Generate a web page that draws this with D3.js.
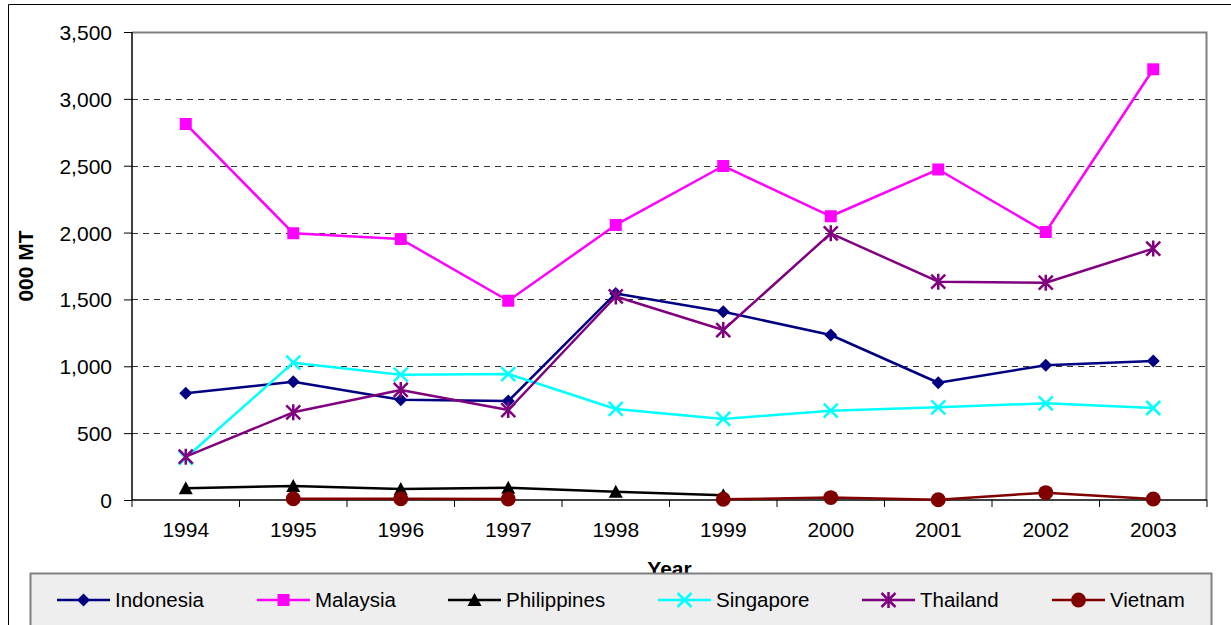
<!DOCTYPE html>
<html>
<head>
<meta charset="utf-8">
<script src="https://cdn.jsdelivr.net/npm/d3@7"></script>
<style>
  html, body { margin: 0; padding: 0; background: #ffffff; }
  svg { display: block; font-family: Arial, "Liberation Sans", sans-serif; }
</style>
</head>
<body>
<svg id="chart" width="1231" height="625"></svg>
<script>
// Years on the category axis
const years = ["1994", "1995", "1996", "1997", "1998", "1999", "2000", "2001", "2002", "2003"];

// Volumes in thousand metric tonnes (null = no data for that year)
const indonesia   = [798, 885, 750, 740, 1545, 1408, 1234, 877, 1008, 1040];
const malaysia    = [2812, 1995, 1952, 1490, 2057, 2498, 2122, 2472, 2004, 3221];
const philippines = [88, 105, 82, 92, 62, 35, null, null, null, null];
const singapore   = [316, 1027, 937, 942, 681, 606, 668, 693, 723, 688];
const thailand    = [324, 656, 823, 673, 1522, 1271, 1994, 1633, 1625, 1880];
const vietnam     = [null, 10, 9, 7, null, 5, 18, 2, 55, 8];

const yTicks = [0, 500, 1000, 1500, 2000, 2500, 3000, 3500];
const seriesNames = ["Indonesia", "Malaysia", "Philippines", "Singapore", "Thailand", "Vietnam"];

const series = [
  { name: seriesNames[0], values: indonesia,   color: "#000080", marker: "diamond" },
  { name: seriesNames[1], values: malaysia,    color: "#ff00ff", marker: "square" },
  { name: seriesNames[2], values: philippines, color: "#000000", marker: "triangle" },
  { name: seriesNames[3], values: singapore,   color: "#00ffff", marker: "x" },
  { name: seriesNames[4], values: thailand,    color: "#800080", marker: "star" },
  { name: seriesNames[5], values: vietnam,     color: "#800000", marker: "circle" }
];

const svg = d3.select("#chart");
const plot = { left: 132, right: 1207, top: 32, bottom: 500 };

const x = d3.scaleBand().domain(years).range([plot.left, plot.right]).padding(0);
const y = d3.scaleLinear().domain([0, 3500]).range([plot.bottom, plot.top]);
const cx = d => x(d) + x.bandwidth() / 2;

// Outer chart frame
svg.append("path")
  .attr("d", "M8.5,625 V4.5 H1231")
  .attr("fill", "none").attr("stroke", "#000").attr("stroke-width", 1);

// Plot area background and frame (top / right in grey)
svg.append("rect")
  .attr("x", plot.left).attr("y", plot.top)
  .attr("width", plot.right - plot.left).attr("height", plot.bottom - plot.top)
  .attr("fill", "#ffffff");
svg.append("path")
  .attr("d", `M${plot.left},${plot.top + 0.5} H${plot.right - 0.5} V${plot.bottom}`)
  .attr("fill", "none").attr("stroke", "#808080").attr("stroke-width", 2);

// Dashed horizontal gridlines
svg.append("g").selectAll("line")
  .data(yTicks.filter(t => t > 0 && t < 3500))
  .join("line")
  .attr("x1", plot.left).attr("x2", plot.right - 2)
  .attr("y1", d => Math.round(y(d)) + 0.5).attr("y2", d => Math.round(y(d)) + 0.5)
  .attr("stroke", "#333333").attr("stroke-width", 1)
  .attr("stroke-dasharray", "6,5");

// Y axis
const yAxis = svg.append("g")
  .attr("transform", `translate(${plot.left},0)`)
  .call(d3.axisLeft(y).tickValues(yTicks).tickSize(8).tickPadding(12)
    .tickFormat(d3.format(",")));
yAxis.select(".domain").attr("stroke", "#000").attr("stroke-width", 1.5)
  .attr("d", `M0,${plot.top}V${plot.bottom}`);
yAxis.selectAll(".tick line").attr("stroke", "#000");
yAxis.selectAll(".tick text")
  .attr("font-size", "21px").attr("fill", "#000")
  .attr("font-family", "Arial, 'Liberation Sans', sans-serif")
  .attr("dy", "0.36em");

// X axis: labels at category centres, ticks at category boundaries
const xAxis = svg.append("g")
  .attr("transform", `translate(0,${plot.bottom})`)
  .call(d3.axisBottom(x).tickSize(0).tickPadding(22));
xAxis.select(".domain").attr("stroke", "#000").attr("stroke-width", 1.5)
  .attr("d", `M${plot.left},0H${plot.right}`);
xAxis.selectAll(".tick text")
  .attr("font-size", "21px").attr("fill", "#000")
  .attr("font-family", "Arial, 'Liberation Sans', sans-serif");
xAxis.selectAll(".bound")
  .data(d3.range(years.length + 1))
  .join("line")
  .attr("class", "bound")
  .attr("x1", i => plot.left + i * x.step()).attr("x2", i => plot.left + i * x.step())
  .attr("y1", 0).attr("y2", 7)
  .attr("stroke", "#000").attr("stroke-width", 1);

// Axis titles
svg.append("text")
  .attr("transform", `translate(33,266) rotate(-90)`)
  .attr("text-anchor", "middle")
  .attr("font-size", "21px").attr("font-weight", "bold")
  .text("000 MT");
svg.append("text")
  .attr("x", (plot.left + plot.right) / 2).attr("y", 576)
  .attr("text-anchor", "middle")
  .attr("font-size", "21px").attr("font-weight", "bold")
  .text("Year");

// Marker shapes
function markerPath(type) {
  switch (type) {
    case "diamond": return "M0,-6.5L6.5,0L0,6.5L-6.5,0Z";
    case "square": return "M-6,-6H6V6H-6Z";
    case "triangle": return "M0,-7L7,6H-7Z";
    case "circle": return d3.symbol(d3.symbolCircle, 175)();
    case "x": return "M-7,-7L7,7M7,-7L-7,7";
    case "star": return "M-7,-7L7,7M7,-7L-7,7M0,-8V8";
  }
}
function drawMarker(g, type, color) {
  const stroked = type === "x" || type === "star";
  g.append("path")
    .attr("d", markerPath(type))
    .attr("fill", stroked ? "none" : color)
    .attr("stroke", stroked ? color : "none")
    .attr("stroke-width", stroked ? 2.5 : 0);
}

// Series lines and markers
const line = d3.line()
  .defined(d => d.v != null)
  .x(d => cx(d.year))
  .y(d => y(d.v));

series.forEach(s => {
  const pts = years.map((yr, i) => ({ year: yr, v: s.values[i] }));
  const g = svg.append("g");
  g.append("path")
    .datum(pts)
    .attr("d", line)
    .attr("fill", "none")
    .attr("stroke", s.color)
    .attr("stroke-width", 2.5)
    .attr("stroke-linejoin", "round");
  pts.filter(p => p.v != null).forEach(p => {
    const m = g.append("g").attr("transform", `translate(${cx(p.year)},${y(p.v)})`);
    drawMarker(m, s.marker, s.color);
  });
});

// Legend
const legend = svg.append("g");
legend.append("rect")
  .attr("x", 30.5).attr("y", 573.5).attr("width", 1181).attr("height", 60)
  .attr("fill", "#eeeeee").attr("stroke", "#808080").attr("stroke-width", 2);
const legendX = [57, 257, 448, 658, 862, 1052];
series.forEach((s, i) => {
  const g = legend.append("g").attr("transform", `translate(${legendX[i]},600)`);
  g.append("line").attr("x1", 0).attr("x2", 53).attr("y1", 0).attr("y2", 0)
    .attr("stroke", s.color).attr("stroke-width", 2.5);
  const m = g.append("g").attr("transform", "translate(26.5,0)");
  drawMarker(m, s.marker, s.color);
  g.append("text")
    .attr("x", 58).attr("y", 0).attr("dy", "0.36em")
    .attr("font-size", "20.5px").attr("fill", "#000")
    .text(s.name);
});
</script>
</body>
</html>
